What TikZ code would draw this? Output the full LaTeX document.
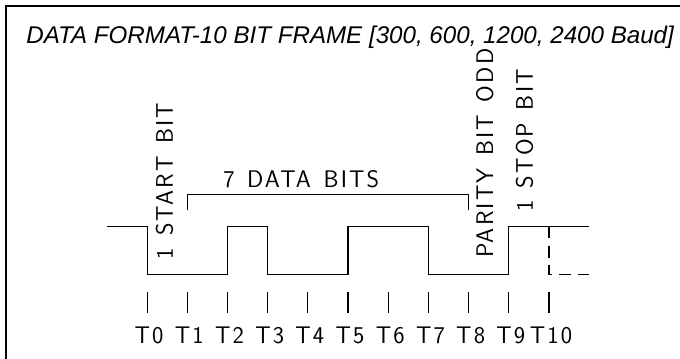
\documentclass[tikz,border=0pt]{standalone}
\usepackage{fontspec}
\setmainfont{Liberation Sans}
\newfontfamily\cadfont{Latin Modern Sans}[LetterSpace=9,WordSpace=1.3]

\tikzset{
	signal/.style={line width=0.8pt},
	cadtext/.style={inner sep=0pt,font=\cadfont\fontsize{17}{19}\selectfont},
	vlabel/.style={cadtext,rotate=90,anchor=base west}
}

\begin{document}
\begin{tikzpicture}
	\useasboundingbox (-3.66,-2.09) rectangle (13.26,6.82) ;
	% frame
	\draw[line width=1.4pt] (-3.51,-2.20) -- (-3.51,6.67) -- (13.40,6.67) ;
	\node[anchor=base west,inner sep=0pt,font=\itshape\fontsize{17.1}{20}\selectfont] (title) at (-3.01,5.74) {DATA FORMAT-10 BIT FRAME [300, 600, 1200, 2400 Baud]} ;
	% waveform
	\draw[signal] (-1.0,1.19) -- (0,1.19) -- (0,0) -- (2,0) -- (2,1.19) -- (3,1.19) -- (3,0)
		-- (5,0) -- (5,1.19) -- (7,1.19) -- (7,0) -- (9,0) -- (9,1.19) -- (11.0,1.19) ;
	\draw[signal,dash pattern=on 0.30cm off 0.18cm] (10,1.19) -- (10,0) -- (11.0,0) ;
	% data bits bracket
	\draw[signal] (1,1.59) -- (1,1.99) -- (8,1.99) -- (8,1.59) ;
	\node[cadtext,anchor=base west] (databits) at (1.89,2.16) {7 DATA BITS} ;
	% vertical labels
	\node[vlabel] (startbit) at (0.64,0.35) {1 START BIT} ;
	\node[vlabel] (paritybit) at (8.61,0.40) {PARITY BIT ODD} ;
	\node[vlabel] (stopbit) at (9.60,1.54) {1 STOP BIT} ;
	% time marks
	\foreach \t in {0,...,10} {
		\draw[signal] (\t,-0.44) -- (\t,-0.98) ;
		\node[cadtext,anchor=base] (T\t) at (\t+0.05,-1.72) {T\t} ;
	}
\end{tikzpicture}
\end{document}
